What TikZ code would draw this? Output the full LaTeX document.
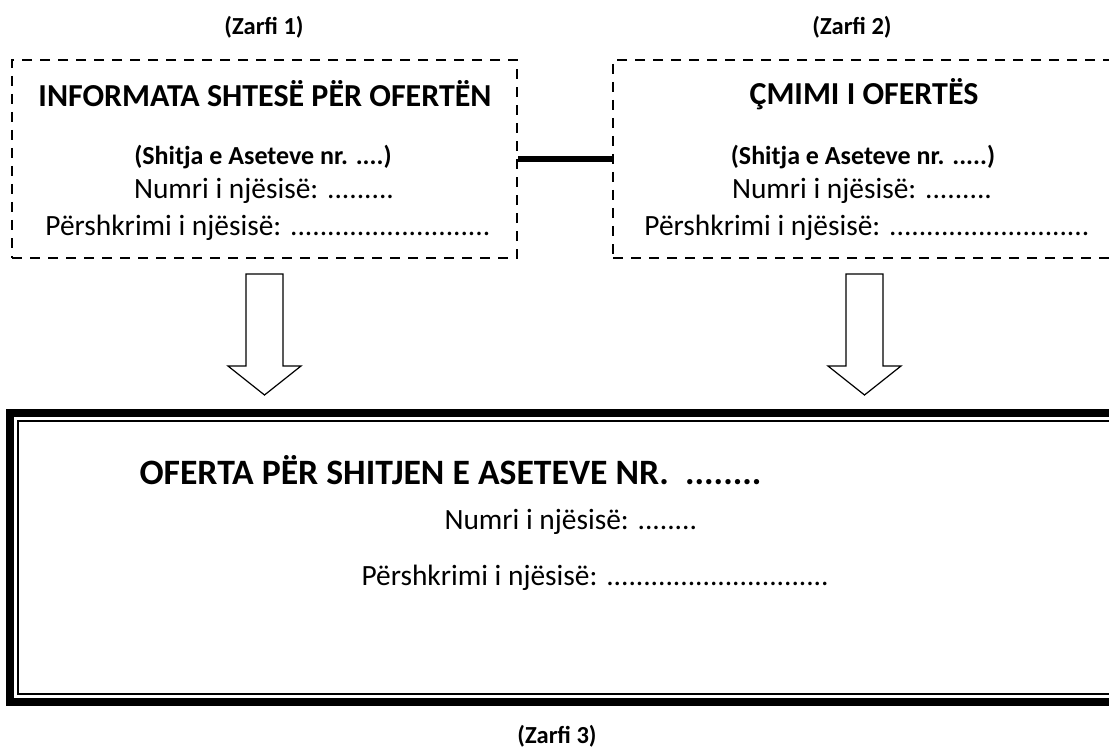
\documentclass[tikz,border=0pt]{standalone}
\usepackage{fontspec}
\setmainfont{Carlito}
\usetikzlibrary{positioning}

\begin{document}
\begin{tikzpicture}[x=1pt,y=-1pt,
    zarf/.style={draw,dash pattern=on 10pt off 8pt,line width=2.5pt,
      minimum height=198pt,inner sep=0pt},
    titull/.style={font=\fontsize{32}{38}\selectfont\bfseries},
    nentitull/.style={font=\fontsize{26}{31}\selectfont\bfseries},
    tekst/.style={font=\fontsize{29.4}{35}\selectfont},
    etikete/.style={font=\fontsize{24.5}{29}\selectfont\bfseries},
    shigjete/.style={draw,line width=1.2pt,line join=miter}]
    \useasboundingbox (0,0) rectangle (1109,749);
    % Definitions
    \coordinate (arrowL) at (264.5,274);
    \coordinate (arrowR) at (864.5,274);
    % Envelopes 1 and 2
    \node(info)  at (264.5,159) [zarf,minimum width=505pt] {};
    \node(cmimi) at (864,159)   [zarf,minimum width=502pt] {};
    \draw[line width=6pt] (info.east) -- (cmimi.west);
    % Texts of envelope 1
    \node(z1) at (264,27)  [etikete] {(Zarfi 1)};
    \node     at (265,94)  [titull] {INFORMATA SHTESË PËR OFERTËN};
    \node     at (263,157) [nentitull] {(Shitja e Aseteve nr. ....)};
    \node     at (264,191) [tekst] {Numri i njësisë: .........};
    \node     at (268,228) [tekst] {Përshkrimi i njësisë: ...........................};
    % Texts of envelope 2
    \node(z2) at (852,27)  [etikete] {(Zarfi 2)};
    \node     at (864,94)  [titull] {ÇMIMI I OFERTËS};
    \node     at (863,157) [nentitull] {(Shitja e Aseteve nr. .....)};
    \node     at (862,191) [tekst] {Numri i njësisë: .........};
    \node     at (867,228) [tekst] {Përshkrimi i njësisë: ...........................};
    % Arrows
    \draw[shigjete] (arrowL) ++(-18.5,0) -- ++(37,0) -- ++(0,92) -- ++(18,0)
      -- ++(-36.5,29) -- ++(-36.5,-29) -- ++(18,0) -- cycle;
    \draw[shigjete] (arrowR) ++(-18.5,0) -- ++(37,0) -- ++(0,92) -- ++(18,0)
      -- ++(-36.5,29) -- ++(-36.5,-29) -- ++(18,0) -- cycle;
    % Envelope 3
    \node(oferta) at (565,557.5) [draw,line width=8pt,outer sep=0pt,
      minimum width=1110pt,minimum height=289pt] {};
    \draw[line width=2.2pt] ([shift={(8,8)}]oferta.north west)
      rectangle ([shift={(-8,-8)}]oferta.south east);
    \node[anchor=west] at (136,470) [titull,font=\fontsize{35.7}{42}\selectfont\bfseries]
      {OFERTA PËR SHITJEN E ASETEVE NR.~~........};
    \node[anchor=west] at (441,522) [tekst] {Numri i njësisë: ........};
    \node[anchor=west] at (358,578) [tekst] {Përshkrimi i njësisë: ..............................};
    \node(z3) at (557,736) [etikete] {(Zarfi 3)};
\end{tikzpicture}
\end{document}
